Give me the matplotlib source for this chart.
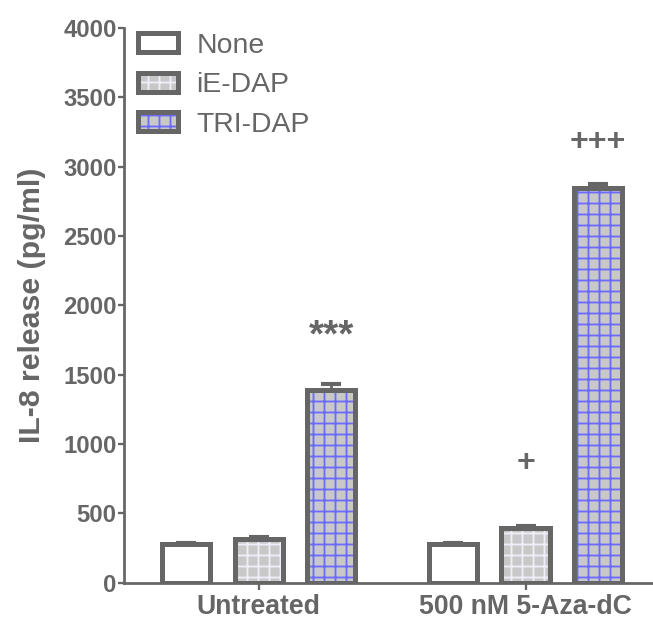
import matplotlib as mpl
import matplotlib.pyplot as plt
import numpy as np
from matplotlib.legend_handler import HandlerTuple
from matplotlib.patches import Rectangle

DPI = 66
mpl.rcParams["font.family"] = "Liberation Sans"
mpl.rcParams["hatch.linewidth"] = 2.0

GRAY = "#666666"

groups = ["Untreated", "500 nM 5-Aza-dC"]
treatments = ["None", "iE-DAP", "TRI-DAP"]
means = {
    "None": [275, 278],
    "iE-DAP": [315, 393],
    "TRI-DAP": [1390, 2846],
}
errors = {
    "None": [12, 10],
    "iE-DAP": [12, 12],
    "TRI-DAP": [42, 28],
}
marks = {
    "TRI-DAP": ["***", "+++"],
    "iE-DAP": ["", "+"],
}

fills = {"None": "white", "iE-DAP": "#c8c8c8", "TRI-DAP": "#c8c8c8"}
hatch_colors = {"None": None, "iE-DAP": "#eeeefa", "TRI-DAP": "#6b6bff"}
# gap between error bar top and significance mark, and its size
mark_gap = {"***": 340, "+": 457, "+++": 304}
mark_size = {"***": 42, "+": 35, "+++": 35}

fig = plt.figure(figsize=(653 / DPI, 624 / DPI), dpi=DPI)
ax = fig.add_axes([0.19, 0.0665, 0.81, 0.8885])

x = np.arange(len(groups))
step = 0.272
width = 0.18
edge_lw = 5 * 72 / DPI

handles = []
for i, name in enumerate(treatments):
    pos = x + (i - 1) * step
    # upper error bar only, drawn below the bar outline
    ax.errorbar(pos, means[name], yerr=[np.zeros(len(groups)), errors[name]],
                fmt="none", ecolor=GRAY, elinewidth=3, capsize=11,
                capthick=4.5, zorder=1)
    if hatch_colors[name] is not None:
        ax.bar(pos, means[name], width, color=fills[name],
               edgecolor=hatch_colors[name], hatch="+", linewidth=0, zorder=2)
    ax.bar(pos, means[name], width, facecolor="none" if hatch_colors[name] else fills[name],
           edgecolor=GRAY, linewidth=edge_lw, zorder=3)

    inner = Rectangle((0, 0), 1, 1, facecolor=fills[name],
                      edgecolor=hatch_colors[name] or fills[name],
                      hatch="+" if hatch_colors[name] else None, linewidth=0)
    outer = Rectangle((0, 0), 1, 1, facecolor="none", edgecolor=GRAY,
                      linewidth=edge_lw)
    handles.append((inner, outer))

    if name in marks:
        for j, m in enumerate(marks[name]):
            if m:
                top = means[name][j] + errors[name][j]
                ax.text(pos[j], top + mark_gap[m], m, ha="center", va="center",
                        fontsize=mark_size[m], fontweight="bold", color=GRAY)

ax.set_xlim(-0.5037, 1.4775)
ax.set_ylim(0, 4000)
ax.set_yticks(np.arange(0, 4001, 500))
ax.set_xticks(x)
ax.set_xticklabels(groups)

for side in ["top", "right"]:
    ax.spines[side].set_visible(False)
for side in ["left", "bottom"]:
    ax.spines[side].set_color(GRAY)
    ax.spines[side].set_linewidth(3)

ax.tick_params(axis="y", length=7, width=2.5, color=GRAY, labelcolor=GRAY,
               labelsize=26, pad=1)
ax.tick_params(axis="x", length=8, width=2.5, color=GRAY, labelcolor=GRAY,
               labelsize=29, pad=4)
for lbl in ax.get_yticklabels() + ax.get_xticklabels():
    lbl.set_fontweight("bold")

ax.set_ylabel("IL-8 release (pg/ml)", fontsize=33, fontweight="bold",
              color=GRAY, labelpad=19)

leg = ax.legend(handles, treatments, handler_map={tuple: HandlerTuple(ndivide=1)},
                loc="upper left", bbox_to_anchor=(0.005, 1.012), frameon=False,
                fontsize=31, handlelength=1.4, handleheight=0.66,
                labelspacing=0.47, handletextpad=0.65, borderaxespad=0)
for t in leg.get_texts():
    t.set_color(GRAY)

fig.savefig("out.png", dpi=DPI)
